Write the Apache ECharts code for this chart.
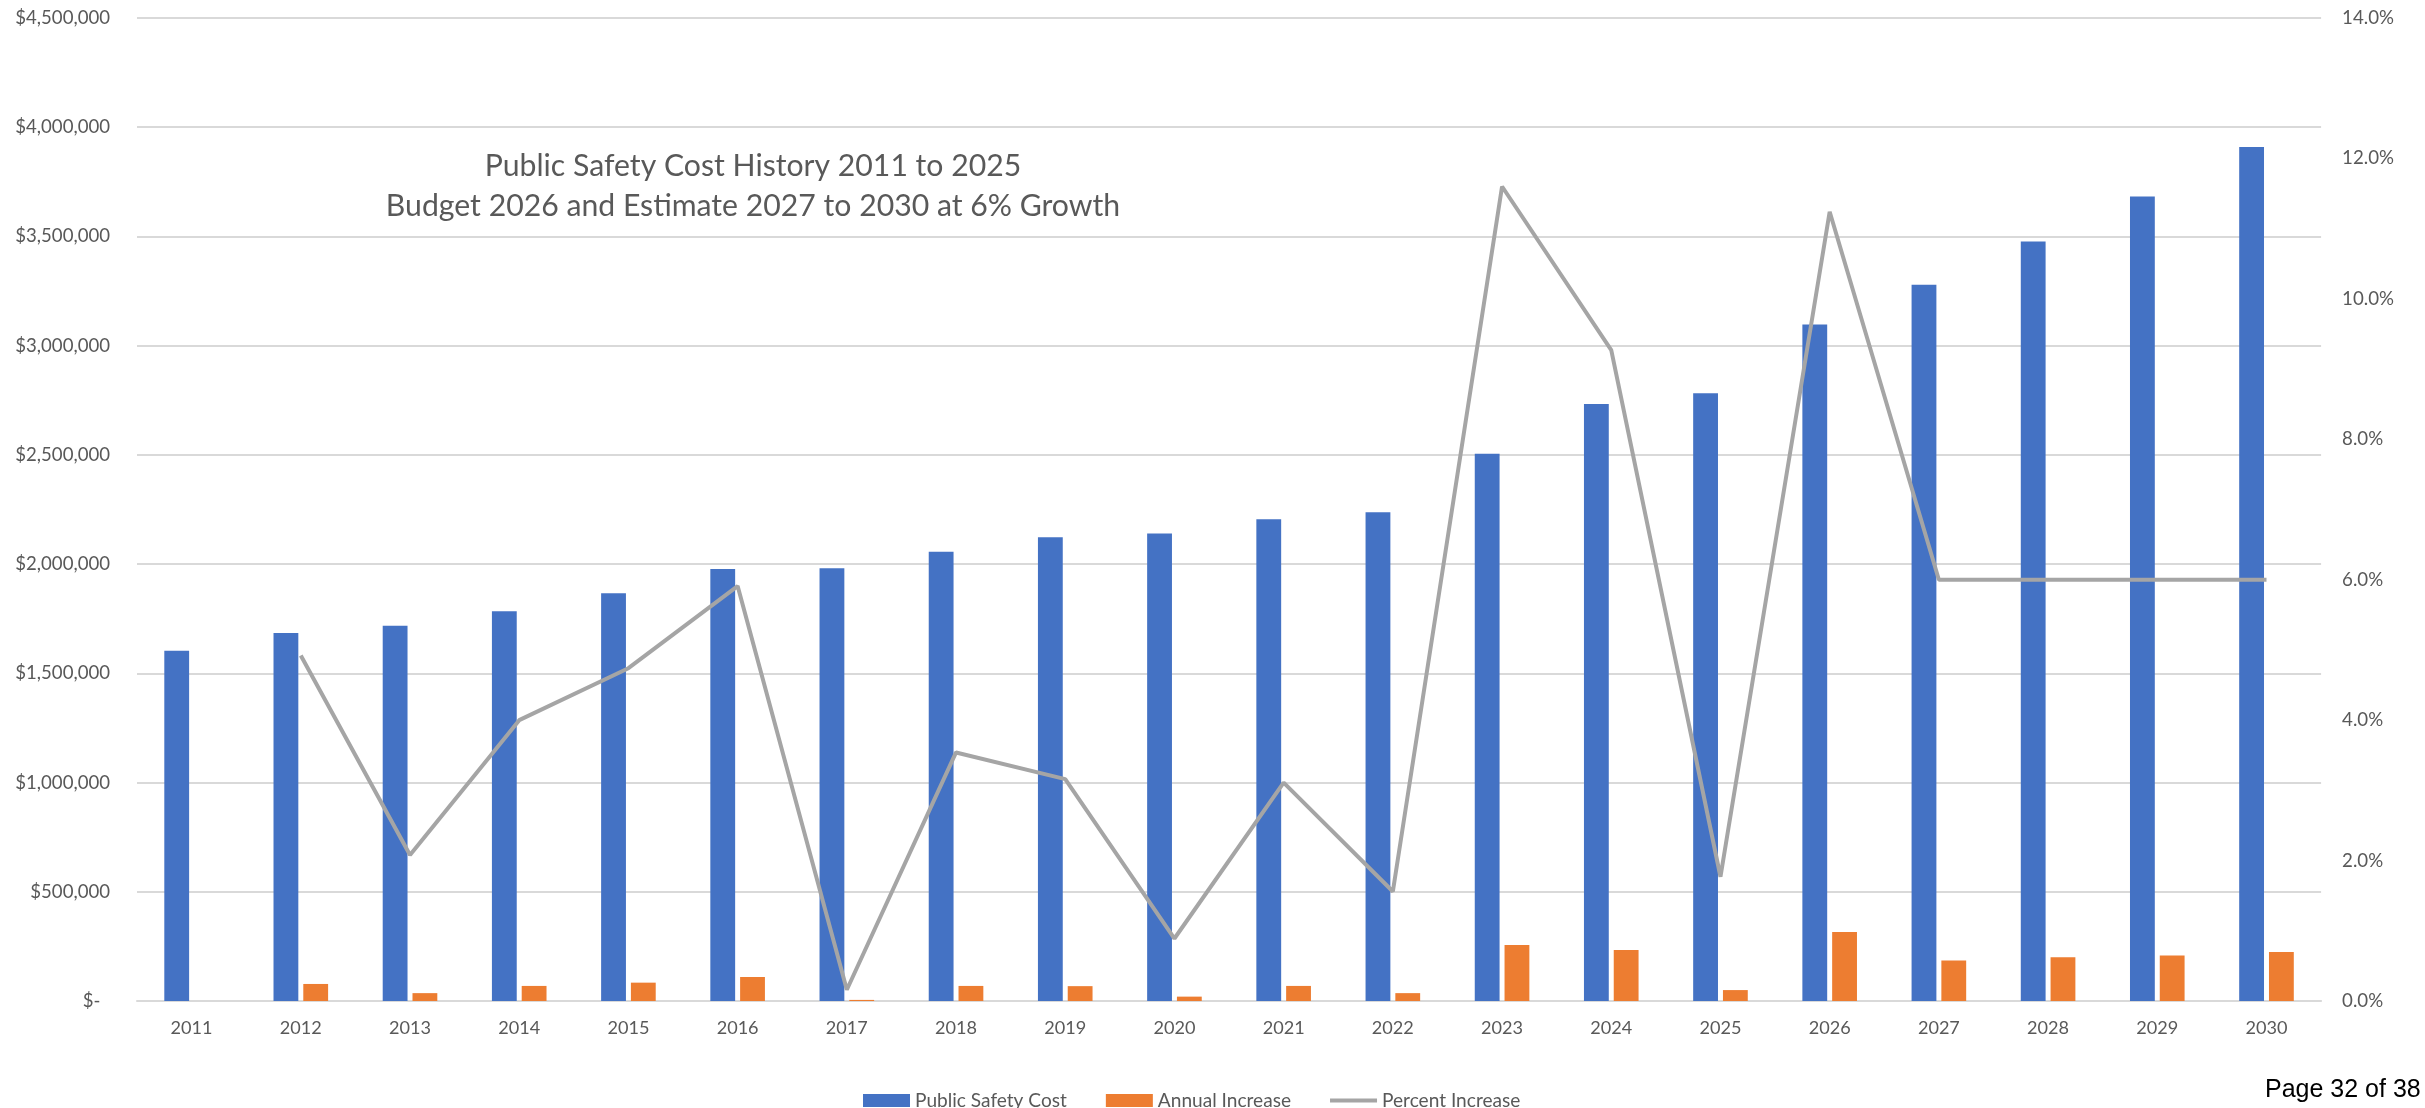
<!DOCTYPE html>
<html>
<head>
<meta charset="utf-8">
<script src="https://cdn.jsdelivr.net/npm/echarts@6/dist/echarts.min.js"></script>
<style>
  html, body { margin: 0; padding: 0; background: #ffffff; overflow: hidden; }
  #wrap { position: relative; width: 2425px; height: 1108px; background: #fff; }
  #chart { position: absolute; left: 0; top: 0; width: 2397px; height: 1108px; }
  #page { position: absolute; left: 2265px; top: 1076px; font-family: "Liberation Sans", Arial, sans-serif; font-size: 25px; line-height: 25px; color: #000; white-space: nowrap; }
</style>
</head>
<body>
<div id="wrap">
  <div id="chart"></div>
  <div id="page">Page 32 of 38</div>
</div>
<script>
// ---------- data ----------
const years = ['2011','2012','2013','2014','2015','2016','2017','2018','2019','2020',
               '2021','2022','2023','2024','2025','2026','2027','2028','2029','2030'];
const publicSafetyCost = [1603000, 1685000, 1718000, 1784000, 1867000, 1978000, 1981000, 2057000, 2123000, 2140000,
                          2205000, 2237000, 2505000, 2733000, 2782000, 3097000, 3279000, 3477000, 3683000, 3909000];
const annualIncrease = [null, 78000, 36000, 69000, 84000, 110000, 5000, 69000, 68000, 20000,
                        69000, 36000, 256000, 233000, 50000, 316000, 185000, 200000, 208000, 224000];
const percentIncrease = [null, 4.92, 2.08, 4.00, 4.74, 5.91, 0.16, 3.54, 3.16, 0.89,
                         3.11, 1.56, 11.60, 9.27, 1.77, 11.24, 6.0, 6.0, 6.0, 6.0];
const seriesNames = ['Public Safety Cost', 'Annual Increase', 'Percent Increase'];
const titleLines = ['Public Safety Cost History 2011 to 2025', 'Budget 2026 and Estimate 2027 to 2030 at 6% Growth'];

// ---------- font fitting helper ----------
const FONT = 'Lato';
const cv = document.createElement('canvas').getContext('2d');
function fit(text, width, fallback) {
  cv.font = '100px ' + FONT;
  const w = cv.measureText(text).width;
  if (!w) return fallback;
  return Math.round(100 * width / w * 10) / 10;
}

const chart = echarts.init(document.getElementById('chart'), null, { renderer: 'canvas' });

// line legend icon: a 4px bar centred in a 47x13 box (tiny corner rects fix the box)
const lineIcon = 'path://M0,0L0.01,0L0.01,0.01L0,0.01Z M0,4.5L47,4.5L47,8.5L0,8.5Z M46.99,12.99L47,12.99L47,13L46.99,13Z';

function draw() {
  const titleSize = fit(titleLines[1], 734, 40);
  const yLabelSize = fit('$4,500,000', 95, 17);
  const xLabelSize = fit('2011', 42, 18);
  const rLabelSize = fit('0.0%', 41, 17);
  const legendSize = fit('Public Safety Cost', 152, 23);

  chart.setOption({
    animation: false,
    backgroundColor: '#ffffff',
    textStyle: { fontFamily: FONT },
    title: {
      text: titleLines.join('\n'),
      left: 748,
      textAlign: 'center',
      top: 141,
      textStyle: { fontFamily: FONT, fontSize: titleSize, fontWeight: 'normal', color: '#595959', lineHeight: 40 }
    },
    legend: {
      left: 863,
      top: 1091,
      padding: 0,
      itemWidth: 47,
      itemHeight: 13,
      itemGap: 39,
      textStyle: { fontFamily: FONT, fontSize: legendSize, color: '#595959', lineHeight: 13, verticalAlign: 'middle' },
      data: [
        { name: seriesNames[0], icon: 'rect' },
        { name: seriesNames[1], icon: 'rect' },
        { name: seriesNames[2], icon: lineIcon }
      ]
    },
    grid: { left: 137, right: 2397 - 2330, top: 18, bottom: 107, containLabel: false },
    xAxis: {
      type: 'category',
      data: years,
      axisLine: { show: true, lineStyle: { color: '#D9D9D9', width: 2 } },
      axisTick: { show: false },
      axisLabel: { color: '#595959', fontSize: xLabelSize, fontFamily: FONT, margin: 18 }
    },
    yAxis: [
      {
        type: 'value',
        min: 0, max: 4500000, interval: 500000,
        axisLine: { show: false },
        axisTick: { show: false },
        splitLine: { show: true, lineStyle: { color: '#D9D9D9', width: 2 } },
        axisLabel: {
          color: '#595959', fontSize: yLabelSize, fontFamily: FONT, margin: 27,
          formatter: v => v === 0 ? '$-  ' : '$' + v.toLocaleString('en-US')
        }
      },
      {
        type: 'value',
        min: 0, max: 14, interval: 2,
        axisLine: { show: false },
        axisTick: { show: false },
        splitLine: { show: false },
        axisLabel: {
          color: '#595959', fontSize: rLabelSize, fontFamily: FONT, margin: 21,
          formatter: v => v.toFixed(1) + '%'
        }
      }
    ],
    series: [
      {
        name: seriesNames[0], type: 'bar', data: publicSafetyCost,
        itemStyle: { color: '#4472C4' },
        barGap: '20%', barCategoryGap: '50%'
      },
      {
        name: seriesNames[1], type: 'bar', data: annualIncrease,
        itemStyle: { color: '#ED7D31' },
        barGap: '20%', barCategoryGap: '50%'
      },
      {
        name: seriesNames[2], type: 'line', yAxisIndex: 1, data: percentIncrease,
        symbol: 'none', connectNulls: false,
        itemStyle: { color: '#A5A5A5' },
        lineStyle: { color: '#A5A5A5', width: 4 },
        z: 5
      }
    ]
  }, true);
}

draw();
if (document.fonts && document.fonts.load) {
  document.fonts.load('100px ' + FONT).then(draw).catch(function () {});
}
</script>
</body>
</html>
